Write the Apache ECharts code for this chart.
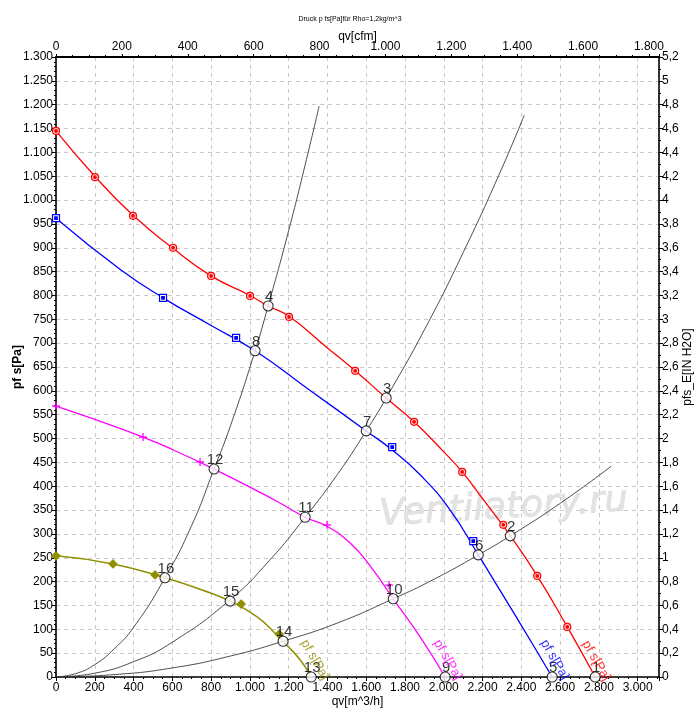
<!DOCTYPE html>
<html>
<head>
<meta charset="utf-8">
<script src="https://cdn.jsdelivr.net/npm/echarts@6/dist/echarts.min.js"></script>
<style>
html,body{margin:0;padding:0;background:#fff;}
#chart{width:700px;height:723px;}
</style>
</head>
<body>
<div id="chart"></div>
<script>
// ---- data ----
const xMaxM3h = 3110;          // right edge of the flow axis [m^3/h]
const m3hPerCfm = 1.699;

// fan curves (lines) [q m^3/h, p Pa]
const redCurve = [[0,1145],[200,1050],[400,967],[600,900],[800,841],[1000,800],[1094,778],[1200,757],[1400,690],[1543,642],[1703,585],[1847,535],[2000,472],[2095,430],[2200,374],[2343,296],[2482,212],[2637,105],[2781,0]];
const blueCurve = [[0,962],[330,855],[552,795],[800,737],[1027,684],[1300,604],[1600,516],[1734,476],[1878,424],[2033,350],[2178,256],[2291,181],[2446,77],[2559,0]];
const magentaCurve = [[0,568],[200,540],[449,503],[600,477],[815,436],[1000,398],[1150,366],[1285,335],[1398,316],[1517,281],[1620,233],[1739,164],[1878,84],[2007,0]];
const oliveCurve = [[0,254],[294,237],[562,208],[750,183],[898,159],[1037,126],[1140,88],[1171,75],[1259,36],[1316,0]];

// measured markers
const redMarks = [[0,1145],[201,1048],[397,967],[604,900],[800,841],[1001,799],[1202,755],[1543,642],[1847,535],[2095,430],[2307,319],[2482,212],[2637,105]];
const blueMarks = [[0,962],[552,795],[929,711],[1734,482],[2152,285]];
const magentaMarks = [[0,568],[449,503],[743,451],[1398,319],[1718,193]];
const oliveMarks = [[0,254],[294,237],[511,214],[955,153],[1151,90]];

// system (resistance) curves
const sysA = [[0,0],[100,7],[200,26],[300,59],[400,104],[562,208],[700,318],[815,436],[900,527],[1027,684],[1094,778],[1200,936],[1300,1099],[1357,1197]];
const sysB = [[0,0],[200,8],[400,32],[600,73],[898,162],[1100,244],[1285,335],[1450,424],[1600,516],[1703,585],[1900,728],[2100,890],[2300,1067],[2415,1178]];
const sysC = [[0,0],[300,5],[600,19],[900,44],[1171,75],[1450,113],[1739,164],[1950,205],[2178,256],[2343,296],[2600,364],[2864,442]];

// numbered operating points [q, p, label]
const opPoints = [[2781,0,'1'],[2343,296,'2'],[1703,585,'3'],[1094,778,'4'],[2559,0,'5'],[2178,256,'6'],[1600,516,'7'],[1027,684,'8'],[2007,0,'9'],[1739,164,'10'],[1285,335,'11'],[815,436,'12'],[1316,0,'13'],[1171,75,'14'],[898,159,'15'],[562,208,'16']];

// curve name labels [q, p, text, colour]
const curveNames = [[2786,34,'pf s[Pa]','#ff0000'],[2572,36,'pf s[Pa]','#0000ff'],[2020,36,'pf s[Pa]','#ff00ff'],[1335,36,'pf s[Pa]','#8f8f00']];

// tick / axis texts
const titleText = 'Druck p fs[Pa]für Rho=1,2kg/m^3';
const xNameBottom = 'qv[m^3/h]';
const xNameTop = 'qv[cfm]';
const yNameLeft = 'pf s[Pa]';
const yNameRight = 'pfs_E[IN H2O]';
const watermark = 'Ventilatory.ru';

// ---- chart ----
const FONT = 'Liberation Sans, Arial, sans-serif';
function dots(v){ return Math.round(v).toString().replace(/\B(?=(\d{3})+(?!\d))/g,'.'); }
function comma(v){ return parseFloat(v.toFixed(1)).toString().replace('.',','); }

const RED='#ff0000', BLUE='#0000ff', MAG='#ff00ff', OLV='#8f8f00', SYS='#3a3a3a';

function curve(data,color,w){
  return {type:'line',data:data,smooth:0.5,showSymbol:false,symbol:'none',
    lineStyle:{color:color,width:w},z:3,silent:true};
}
function marks(data,symbol,size,color,fill,z){
  return {type:'scatter',data:data,symbol:symbol,symbolSize:size,
    itemStyle:{color:fill,borderColor:color,borderWidth:1.2,opacity:1},z:z||4,silent:true};
}

const axisLineStyle = {color:'#000',width:1.6};
const labelStyle = {color:'#000',fontSize:12,fontFamily:FONT};

const chart = echarts.init(document.getElementById('chart'),null,{renderer:'canvas'});
chart.setOption({
  animation:false,
  backgroundColor:'#fff',
  title:{text:titleText,left:'center',top:11,textStyle:{fontSize:7,fontWeight:'normal',color:'#000',fontFamily:FONT}},
  grid:{left:56,right:41,top:57,bottom:46,containLabel:false,outerBoundsMode:'none'},
  xAxis:[
    {type:'value',position:'bottom',min:0,max:xMaxM3h,interval:200,
     name:xNameBottom,nameLocation:'middle',nameGap:19,nameMoveOverlap:false,
     nameTextStyle:{color:'#000',fontSize:12,fontFamily:FONT,verticalAlign:'top',padding:[0,0,0,0]},
     axisLine:{show:true,onZero:false,lineStyle:axisLineStyle},
     axisTick:{show:true,length:4,lineStyle:{color:'#000'}},
     minorTick:{show:true,splitNumber:4,length:2,lineStyle:{color:'#000'}},
     axisLabel:{...labelStyle,margin:5,showMaxLabel:false,formatter:dots},
     splitLine:{show:true,lineStyle:{color:'#c8c8c8',type:[4,4],width:1}}},
    {type:'value',position:'top',min:0,max:xMaxM3h/m3hPerCfm,interval:200,
     name:xNameTop,nameLocation:'middle',nameGap:14,nameMoveOverlap:false,
     nameTextStyle:{color:'#000',fontSize:12,fontFamily:FONT},
     axisLine:{show:true,onZero:false,lineStyle:{color:'#000',width:2}},
     axisTick:{show:true,length:3,lineStyle:{color:'#000'}},
     minorTick:{show:true,splitNumber:4,length:2,lineStyle:{color:'#000'}},
     axisLabel:{...labelStyle,margin:4,showMaxLabel:false,formatter:dots},
     splitLine:{show:false}}
  ],
  yAxis:[
    {type:'value',position:'left',min:0,max:1300,interval:50,
     name:yNameLeft,nameLocation:'middle',nameRotate:90,nameGap:32,nameMoveOverlap:false,
     nameTextStyle:{color:'#000',fontSize:12,fontWeight:'bold',fontFamily:FONT},
     axisLine:{show:true,onZero:false,lineStyle:axisLineStyle},
     axisTick:{show:true,length:4,lineStyle:{color:'#000'}},
     minorTick:{show:true,splitNumber:5,length:2,lineStyle:{color:'#000'}},
     axisLabel:{...labelStyle,margin:3,formatter:dots},
     splitLine:{show:true,lineStyle:{color:'#c8c8c8',type:[4,4],width:1}}},
    {type:'value',position:'right',min:0,max:5.2,interval:0.2,
     name:yNameRight,nameLocation:'middle',nameRotate:90,nameGap:23,nameMoveOverlap:false,
     nameTextStyle:{color:'#000',fontSize:12,fontFamily:FONT},
     axisLine:{show:true,onZero:false,lineStyle:axisLineStyle},
     axisTick:{show:true,length:4,lineStyle:{color:'#000'}},
     minorTick:{show:true,splitNumber:2,length:2,lineStyle:{color:'#000'}},
     axisLabel:{...labelStyle,margin:3,formatter:comma},
     splitLine:{show:false}}
  ],
  graphic:[{type:'text',left:378,top:482,rotation:0.06,z:1,silent:true,
    style:{text:watermark,font:'italic 37px "DejaVu Sans", sans-serif',fill:'#e2e2e2',stroke:'#d4d4d4',lineWidth:0.6}}],
  series:[
    curve(sysA,SYS,0.9), curve(sysB,SYS,0.9), curve(sysC,SYS,0.9),
    curve(redCurve,RED,1.3), curve(blueCurve,BLUE,1.3), curve(magentaCurve,MAG,1.3), curve(oliveCurve,OLV,1.5),
    marks(redMarks,'circle',7,RED,'#ffd0d0'),
    marks(redMarks,'circle',2.5,RED,RED,5),
    marks(blueMarks,'rect',7,BLUE,'#fff'),
    marks(blueMarks,'rect',2.5,BLUE,BLUE,5),
    {type:'scatter',data:magentaMarks,symbol:'path://M4,0h2v4h4v2h-4v4h-2v-4h-4v-2h4z',symbolSize:8,
     itemStyle:{color:MAG},z:4,silent:true},
    marks(oliveMarks,'diamond',8,OLV,OLV),
    {type:'scatter',data:opPoints,symbol:'circle',symbolSize:10,z:6,silent:true,
     itemStyle:{color:'#fff',borderColor:'#000',borderWidth:1.1},
     label:{show:true,position:'inside',offset:[1,-9],formatter:p=>p.data[2],
       color:'#000',fontSize:15,fontFamily:FONT}},
    {type:'scatter',data:curveNames.map(d=>({value:[d[0],d[1]],name:d[2],
       label:{color:d[3]}})),symbolSize:0,z:7,silent:true,
     label:{show:true,position:'inside',rotate:-60,formatter:p=>p.name,fontSize:13,fontFamily:FONT}}
  ]
});
</script>
</body>
</html>
